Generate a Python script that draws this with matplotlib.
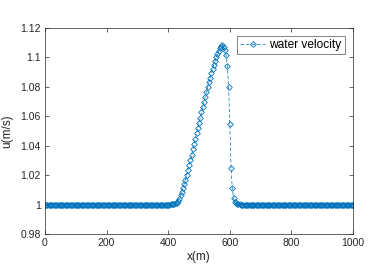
import numpy as np
import matplotlib
matplotlib.use("Agg")
import matplotlib.pyplot as plt

plt.rcParams['font.family'] = ['Liberation Sans', 'DejaVu Sans']

# grid (m) and velocity
x_start, x_end, dx = 0, 1000, 4
bump_start = 400
u_bump = [
    1.0000, 1.0000, 1.0001, 1.0002, 1.0003, 1.0005, 1.0008, 1.0014, 1.0024, 1.0040,
    1.0062, 1.0086, 1.0112, 1.0140, 1.0170, 1.0201, 1.0234, 1.0268, 1.0303, 1.0339,
    1.0375, 1.0411, 1.0447, 1.0483, 1.0519, 1.0555, 1.0591, 1.0627, 1.0662, 1.0697,
    1.0731, 1.0765, 1.0798, 1.0830, 1.0861, 1.0891, 1.0920, 1.0948, 1.0975, 1.1000,
    1.1023, 1.1044, 1.1062, 1.1076, 1.1082, 1.1072, 1.1050, 1.1015, 1.0940, 1.0800,
    1.0550, 1.0250, 1.0110, 1.0045, 1.0020, 1.0009, 1.0004, 1.0002, 1.0001, 1.0000,
    1.0000,
]
u_base = 1.0

x = np.arange(x_start, x_end + dx, dx)
u = np.full(len(x), u_base)
i0 = (bump_start - x_start) // dx
u[i0:i0 + len(u_bump)] = u_bump

xticks = [0, 200, 400, 600, 800, 1000]
yticks = [0.98, 1, 1.02, 1.04, 1.06, 1.08, 1.1, 1.12]
ytick_labels = ['0.98', '1', '1.02', '1.04', '1.06', '1.08', '1.1', '1.12']

blue = '#0072BD'
dark = '#262626'

fig = plt.figure(figsize=(3.74, 2.80), dpi=100)
ax = fig.add_axes([0.1203, 0.1643, 0.8236, 0.7357])

ax.plot(x, u, color=blue, linestyle='--', linewidth=0.5, dashes=(5, 3),
        marker='D', markersize=2.9, markerfacecolor='none',
        markeredgecolor=blue, markeredgewidth=0.6, label='water velocity')

ax.set_xlim(0, 1000)
ax.set_ylim(0.98, 1.12)
ax.set_xticks(xticks)
ax.set_yticks(yticks)
ax.set_yticklabels(ytick_labels)
ax.tick_params(direction='in', length=3, width=0.5, colors=dark, labelsize=7.5,
               top=True, right=True, pad=3)
for s in ax.spines.values():
    s.set_linewidth(0.5)
    s.set_color(dark)

ax.set_xlabel('x(m)', fontsize=8.5, color=dark, labelpad=2)
ax.set_ylabel('u(m/s)', fontsize=8.5, color=dark, labelpad=5)

leg = ax.legend(loc='upper right', fontsize=8.6, frameon=True, fancybox=False,
                borderpad=0.25, handlelength=2.1, handletextpad=0.35,
                borderaxespad=0.7)
leg.get_frame().set_edgecolor(dark)
leg.get_frame().set_linewidth(0.5)

fig.savefig('out.png', dpi=100)
